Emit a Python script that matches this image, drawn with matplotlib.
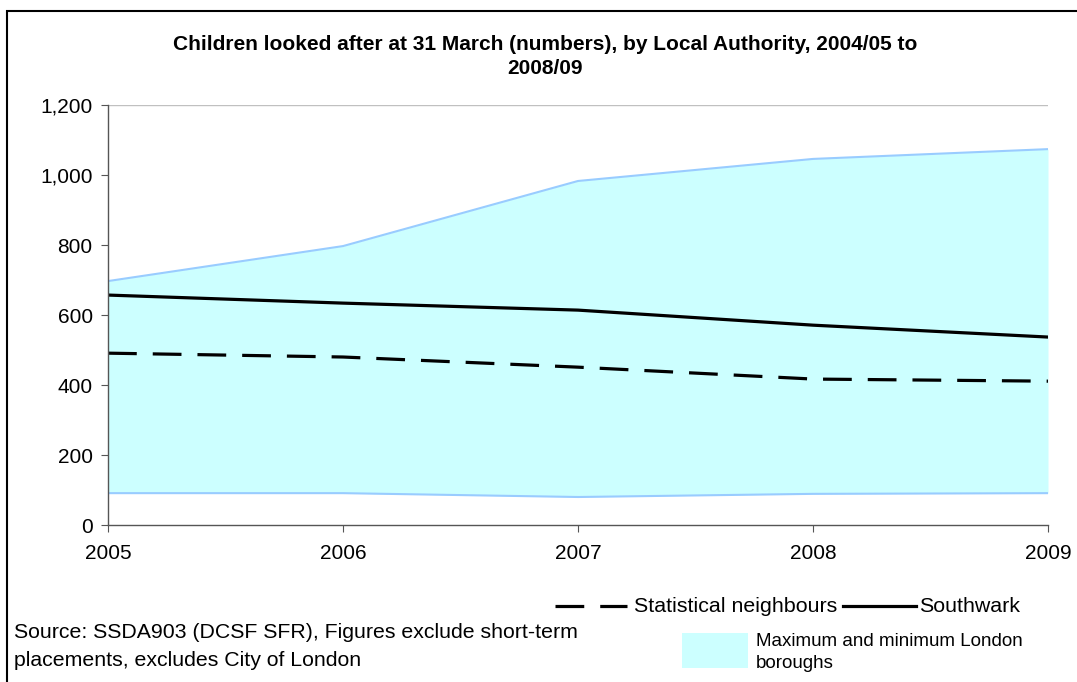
import matplotlib
matplotlib.use("Agg")
import matplotlib.pyplot as plt
from matplotlib.lines import Line2D
from matplotlib.patches import Rectangle
from matplotlib.ticker import FuncFormatter

plt.rcParams['font.family'] = ['Liberation Sans', 'DejaVu Sans']

years = [2005, 2006, 2007, 2008, 2009]
london_max = [697, 797, 983, 1046, 1074]
london_min = [91, 91, 80, 89, 91]
southwark = [657, 634, 614, 571, 537]
stat_neighbours = [491, 480, 451, 417, 411]

fill_col = '#CCFFFF'
edge_col = '#99CCFF'

fig = plt.figure(figsize=(10.77, 6.82), dpi=100)
ax = fig.add_axes([0.1003, 0.2302, 0.8728, 0.6158])

# min/max band
ax.fill_between(years, london_min, london_max, color=fill_col, lw=0)
ax.plot(years, london_max, color=edge_col, lw=1.5)
ax.plot(years, london_min, color=edge_col, lw=1.5)

ax.plot(years, southwark, color='black', lw=2.3)
ax.plot(years, stat_neighbours, color='black', lw=2.3, dashes=(9, 5))

ax.set_xlim(2005, 2009)
ax.set_ylim(0, 1200)
ax.set_yticks(range(0, 1201, 200))
ax.set_xticks(years)
ax.yaxis.set_major_formatter(FuncFormatter(lambda v, p: f'{int(v):,}'))
ax.axhline(1200, color='#c0c0c0', lw=1)

for s in ['top', 'right']:
    ax.spines[s].set_visible(False)
for s in ['left', 'bottom']:
    ax.spines[s].set_color('#555555')
    ax.spines[s].set_linewidth(1)
ax.tick_params(axis='both', labelsize=15, length=5, color='#555555', pad=6)
ax.tick_params(axis='x', pad=9)

fig.text(0.506, 0.935, 'Children looked after at 31 March (numbers), by Local Authority, 2004/05 to',
         ha='center', va='center', fontsize=15, fontweight='bold')
fig.text(0.506, 0.899, '2008/09', ha='center', va='center', fontsize=15, fontweight='bold')

# outer frame
fig.patches.append(Rectangle((7 / 1077, -0.05), 1.1, 1 - 11 / 682 + 0.05, transform=fig.transFigure,
                             fill=False, edgecolor='black', lw=1.5))

# legend drawn by hand
W, H = 1077, 682
fig.add_artist(Line2D([555 / W, 627 / W], [1 - 606 / H] * 2, color='black', lw=2.3, dashes=(9, 5)))
fig.text(634 / W, 1 - 606 / H, 'Statistical neighbours', fontsize=15.4, va='center')
fig.add_artist(Line2D([843 / W, 916 / W], [1 - 606 / H] * 2, color='black', lw=2.3))
fig.text(919 / W, 1 - 606 / H, 'Southwark', fontsize=15.4, va='center')
fig.patches.append(Rectangle((682 / W, 1 - 668 / H), 66 / W, 35 / H, transform=fig.transFigure,
                             facecolor=fill_col, edgecolor='none'))
fig.text(756 / W, 1 - 641 / H, 'Maximum and minimum London', fontsize=13.5, va='center')
fig.text(756 / W, 1 - 663 / H, 'boroughs', fontsize=13.5, va='center')

fig.text(14 / W, 1 - 633 / H, 'Source: SSDA903 (DCSF SFR), Figures exclude short-term',
         fontsize=15.3, va='center')
fig.text(14 / W, 1 - 660 / H, 'placements, excludes City of London', fontsize=15.3, va='center')

fig.savefig('out.png', dpi=100)
